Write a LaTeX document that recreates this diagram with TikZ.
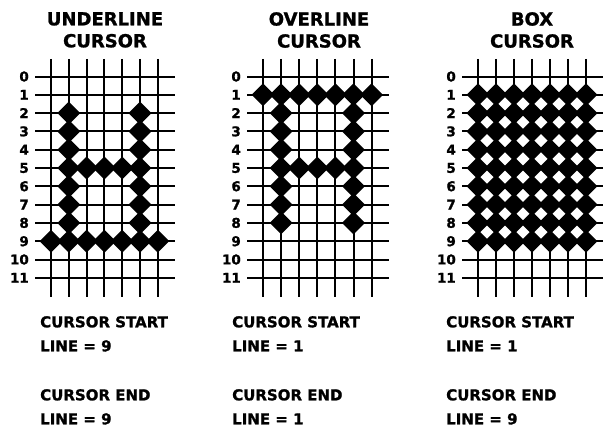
\documentclass[tikz,border=0pt]{standalone}
\usepackage{fontspec}
\setmainfont{DejaVu Sans}[BoldFeatures={FakeBold=1.2}]
\usetikzlibrary{shapes.geometric}
\tikzset{
    dot/.style={diamond, fill=black, inner sep=0pt, minimum width=23pt, minimum height=23pt},
    gridline/.style={line width=2pt},
    rowlabel/.style={anchor=east, inner sep=0pt, font=\bfseries\fontsize{13.5}{13.5}\selectfont},
    headtext/.style={anchor=north, align=center, inner sep=0pt, font=\bfseries\fontsize{18}{22}\selectfont},
    foottext/.style={anchor=north west, align=left, inner sep=0pt, font=\bfseries\fontsize{15}{24}\selectfont}
}
\begin{document}
\begin{tikzpicture}[x=1pt,y=-1pt]
        \useasboundingbox (0,0) rectangle (607,428);
        % grids
            \foreach \g/\gx/\d in {u/51/17.8,o/263/18.1,b/478/18}{
                \foreach \c in {0,...,6}{
                    \draw[gridline] (\gx+\c*\d,59) -- (\gx+\c*\d,297);
                }
                \foreach \r in {0,...,11}{
                    \draw[gridline] (\gx-16,76.5+18.3*\r) -- (\gx+6*\d+17,76.5+18.3*\r);
                    \node[rowlabel] (\g-l\r) at (\gx-22,76.5+18.3*\r) {\r};
                }
            }
        % underline cursor
            \foreach \r in {2,...,8}{
                \node[dot] (u1-\r) at (51+17.8,76.5+18.3*\r) {};
                \node[dot] (u5-\r) at (51+5*17.8,76.5+18.3*\r) {};
            }
            \foreach \c in {2,3,4}{
                \node[dot] (u\c-5) at (51+\c*17.8,76.5+18.3*5) {};
            }
            \foreach \c in {0,...,6}{
                \node[dot] (u\c-9) at (51+\c*17.8,76.5+18.3*9) {};
            }
        % overline cursor
            \foreach \c in {0,...,6}{
                \node[dot] (o\c-1) at (263+\c*18.1,76.5+18.3) {};
            }
            \foreach \r in {2,...,8}{
                \node[dot] (o1-\r) at (263+18.1,76.5+18.3*\r) {};
                \node[dot] (o5-\r) at (263+5*18.1,76.5+18.3*\r) {};
            }
            \foreach \c in {2,3,4}{
                \node[dot] (o\c-5) at (263+\c*18.1,76.5+18.3*5) {};
            }
        % box cursor
            \foreach \c in {0,...,6}{
                \foreach \r in {1,...,9}{
                    \node[dot] (b\c-\r) at (478+\c*18,76.5+18.3*\r) {};
                }
            }
        % labels
            \node[headtext] (utitle) at (105,12) {UNDERLINE\\CURSOR};
            \node[headtext] (otitle) at (319,12) {OVERLINE\\CURSOR};
            \node[headtext] (btitle) at (532,12) {BOX\\CURSOR};
            \node[foottext] (ustart) at (40,316) {CURSOR START\\LINE = 9};
            \node[foottext] (uend) at (40,389) {CURSOR END\\LINE = 9};
            \node[foottext] (ostart) at (232,316) {CURSOR START\\LINE = 1};
            \node[foottext] (oend) at (232,389) {CURSOR END\\LINE = 1};
            \node[foottext] (bstart) at (446,316) {CURSOR START\\LINE = 1};
            \node[foottext] (bend) at (446,389) {CURSOR END\\LINE = 9};
\end{tikzpicture}
\end{document}
